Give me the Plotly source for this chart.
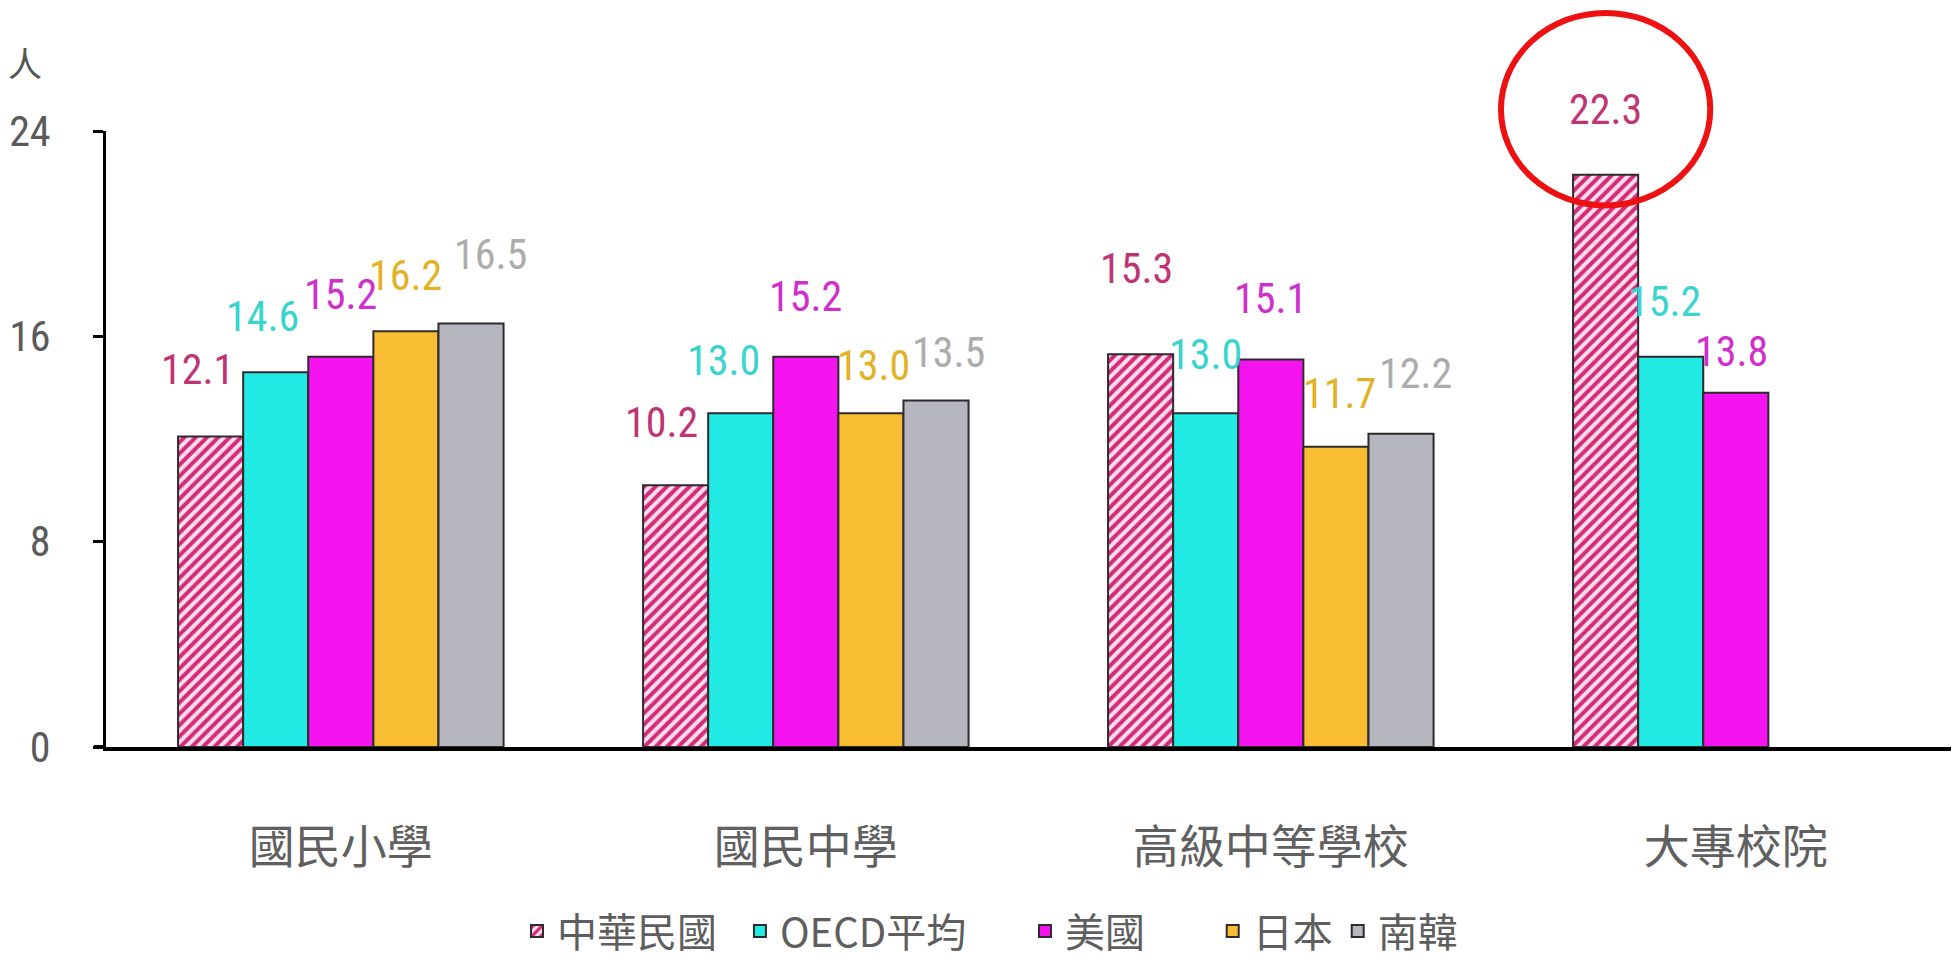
import plotly.graph_objects as go

categories = ["國民小學", "國民中學", "高級中等學校", "大專校院"]
series_names = ["中華民國", "OECD平均", "美國", "日本", "南韓"]
roc = [12.1, 10.2, 15.3, 22.3]
oecd = [14.6, 13.0, 13.0, 15.2]
usa = [15.2, 15.2, 15.1, 13.8]
japan = [16.2, 13.0, 11.7, None]
korea = [16.5, 13.5, 12.2, None]
y_ticks = [0, 8, 16, 24]
y_unit = "人"

series_values = [roc, oecd, usa, japan, korea]

# ---- styling ----
bar_colors = ["#fbe0ec", "#22eae4", "#f514f0", "#f9bd33", "#b6b6be"]
label_colors = ["#bf3574", "#3ad4cf", "#cf30cc", "#e2b226", "#acacac"]
# per-label pixel nudges (horizontal) and gaps above the bar top (vertical)
label_dx = [[-13, -14, -4, 0], [-13, -17, 0, -6], [0, 0, 0, -4], [0, 3, 4, 0], [19, 12, 14, 0]]
label_gap = [[51, 47, 70, 50], [40, 37, 43, 40], [47, 45, 45, 26], [40, 32, 38, 0], [54, 33, 45, 0]]
legend_pad = [2, 6, 7, 0, 0]  # extra spacing after legend entries (non-breaking spaces)
BASELINE_PAD = 11

W, H = 1951, 958
ML, MR, MT, MB = 98, 0, 123, 219
XR = [-0.505, 3.48]
YR = [0, 24]
BARGAP = 0.30

num_font = "Liberation Sans Narrow, Roboto Condensed, Liberation Sans, Arial"
cjk_font = "Noto Sans CJK TC, Noto Sans CJK SC, sans-serif"

fig = go.Figure()
n = len(series_names)
bw = (1 - BARGAP) / n
for j, (name, vals) in enumerate(zip(series_names, series_values)):
    marker = dict(color=bar_colors[j], line=dict(color="#2e2a2e", width=2))
    if j == 0:
        marker["pattern"] = dict(shape="/", fgcolor="#d42a78", bgcolor="#fbe0ec",
                                 size=8, solidity=0.5, fillmode="replace")
    fig.add_trace(go.Bar(name=name + "\u00a0" * legend_pad[j], x=categories, y=vals,
                         marker=marker, hoverinfo="skip"))
    for i, v in enumerate(vals):
        if v is None:
            continue
        fig.add_annotation(
            x=i - (n - 1) / 2 * bw + j * bw, y=v, xref="x", yref="y",
            text=f"{v:.1f}", showarrow=False, xanchor="center", yanchor="bottom",
            xshift=label_dx[j][i], yshift=label_gap[j][i] - BASELINE_PAD,
            font=dict(family=num_font, size=42, color=label_colors[j]),
        )

plot_w = W - ML - MR
plot_h = H - MT - MB

# highlight ellipse around the 大專校院 / 中華民國 bar label
cx = 3 - (n - 1) / 2 * bw
span = XR[1] - XR[0]
fig.add_shape(type="circle", xref="paper", yref="paper",
              x0=(cx - 0.225 - XR[0]) / span, x1=(cx + 0.225 - XR[0]) / span,
              y0=(roc[3] - 1.2) / YR[1], y1=(roc[3] + 6.3) / YR[1],
              line=dict(color="#ee1111", width=6))

# slight leftward extension of the baseline
fig.add_shape(type="line", xref="paper", yref="y", x0=-12 / plot_w, x1=0, y0=0, y1=0,
              line=dict(color="black", width=4))

fig.add_annotation(text=y_unit, xref="paper", yref="paper", x=(17 - ML) / plot_w,
                   y=1 + (MT - 54) / plot_h, showarrow=False, xanchor="center", yanchor="middle",
                   font=dict(family=cjk_font, size=34, color="#555555"))

fig.update_layout(
    width=W, height=H,
    margin=dict(l=ML, r=MR, t=MT, b=MB),
    paper_bgcolor="white", plot_bgcolor="white",
    barmode="group", bargap=BARGAP, bargroupgap=0,
    showlegend=True,
    legend=dict(orientation="h", x=(982 - ML) / plot_w, xanchor="center",
                y=(739 - 923) / plot_h, yanchor="middle",
                font=dict(family=cjk_font, size=40, color="#5e5e5e"),
                bgcolor="rgba(0,0,0,0)"),
    xaxis=dict(range=XR, showline=True, linecolor="black", linewidth=4,
               showgrid=False, zeroline=False, ticks="",
               tickfont=dict(family=cjk_font, size=46, color="#606060"),
               ticklabelstandoff=57),
    yaxis=dict(range=YR, tickvals=y_ticks, showline=True, linecolor="black", linewidth=3,
               showgrid=False, zeroline=False, ticks="outside", ticklen=10, tickwidth=3,
               tickcolor="black",
               tickfont=dict(family=num_font, size=42, color="#5a5a5a"),
               ticklabelstandoff=34),
)

fig.write_html("out.html")
